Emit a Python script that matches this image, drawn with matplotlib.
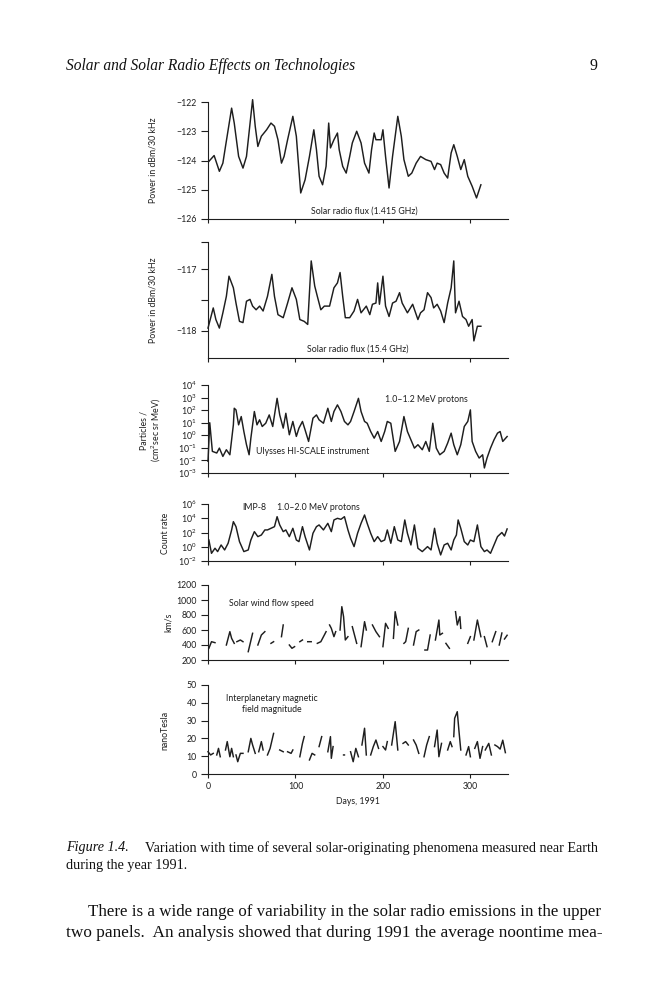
import numpy as np
import matplotlib.pyplot as plt

plt.rcParams['font.family'] = ['Lato', 'DejaVu Sans']
plt.rcParams['mathtext.fontset'] = 'custom'
plt.rcParams['mathtext.rm'] = 'Lato'
plt.rcParams['mathtext.it'] = 'Lato:italic'

INK = '#1e1e1e'
nan = np.nan

# Panel 1: solar radio flux 1.415 GHz (dBm/30 kHz)
p1_days = [1, 7, 13, 17, 20, 27, 30, 35, 40, 44, 51, 54, 57, 61, 67, 72, 76, 80, 84, 87,
           91, 97, 101, 106, 111, 116, 121, 124, 127, 131, 135, 138, 140, 144, 148, 150,
           154, 158, 162, 165, 170, 175, 179, 184, 187, 190, 192, 198, 200, 203, 207, 211,
           217, 221, 224, 229, 233, 238, 243, 249, 255, 259, 262, 266, 270, 274, 278, 281,
           285, 289, 293, 297, 302, 307, 312]
p1_vals = [-124.03, -123.83, -124.37, -124.09, -123.52, -122.21, -122.72, -123.86, -124.26,
           -123.86, -121.92, -122.83, -123.52, -123.17, -122.95, -122.72, -122.83, -123.29,
           -124.09, -123.86, -123.29, -122.49, -123.17, -125.11, -124.66, -123.86, -122.95,
           -123.63, -124.54, -124.83, -124.20, -122.72, -123.57, -123.29, -123.06, -123.63,
           -124.20, -124.43, -123.86, -123.40, -123.00, -123.40, -124.09, -124.43, -123.63,
           -123.06, -123.29, -123.29, -122.95, -123.86, -124.94, -123.86, -122.49, -123.17,
           -123.97, -124.54, -124.43, -124.09, -123.86, -123.97, -124.03, -124.31, -124.09,
           -124.14, -124.43, -124.60, -123.74, -123.46, -123.86, -124.31, -123.97, -124.54,
           -124.88, -125.28, -124.83]

# Panel 2: solar radio flux 15.4 GHz (dBm/30 kHz)
p2_days = [0, 6, 9, 13, 17, 21, 24, 29, 32, 36, 40, 44, 48, 51, 55, 59, 63, 68, 73, 76,
           80, 86, 91, 96, 101, 105, 110, 114, 118, 122, 125, 129, 133, 139, 144, 148, 151,
           154, 157, 162, 167, 171, 175, 181, 185, 188, 192, 194, 196, 200, 203, 207, 211,
           215, 219, 222, 228, 234, 240, 243, 247, 251, 255, 258, 262, 266, 270, 274, 278,
           281, 283, 287, 291, 295, 298, 302, 304, 308, 312]
p2_vals = [-117.96, -117.63, -117.82, -117.96, -117.71, -117.44, -117.11, -117.30, -117.55,
           -117.85, -117.87, -117.52, -117.49, -117.60, -117.66, -117.60, -117.68, -117.44,
           -117.08, -117.44, -117.74, -117.79, -117.55, -117.30, -117.49, -117.82, -117.85,
           -117.90, -116.86, -117.27, -117.44, -117.66, -117.60, -117.60, -117.30, -117.22,
           -117.05, -117.44, -117.79, -117.79, -117.68, -117.49, -117.71, -117.60, -117.74,
           -117.57, -117.55, -117.22, -117.57, -117.11, -117.60, -117.77, -117.55, -117.52,
           -117.38, -117.55, -117.71, -117.57, -117.82, -117.71, -117.66, -117.38, -117.46,
           -117.63, -117.57, -117.68, -117.87, -117.55, -117.30, -116.86, -117.71, -117.52,
           -117.77, -117.82, -117.93, -117.82, -118.17, -117.93, -117.93]

# Panel 3: Ulysses HI-SCALE 1.0-1.2 MeV protons, log10 of particles
p3_days = [0, 2, 5, 10, 13, 17, 21, 25, 29, 30, 32, 35, 38, 41, 44, 47, 49, 53, 56, 59,
           62, 66, 70, 74, 79, 82, 86, 89, 93, 97, 101, 104, 108, 111, 115, 120, 124, 127,
           132, 137, 141, 144, 148, 152, 156, 160, 163, 167, 172, 175, 179, 182, 186, 190,
           194, 198, 202, 205, 209, 214, 219, 224, 228, 232, 236, 240, 245, 249, 253, 257,
           261, 265, 270, 274, 278, 281, 285, 289, 293, 297, 300, 302, 306, 310, 314, 316,
           319, 323, 327, 331, 334, 337, 342]
p3_log = [-2.07, 1.0, -1.28, -1.41, -1.02, -1.68, -1.15, -1.55, 0.83, 2.15, 2.02, 0.83,
          1.49, 0.3, -0.75, -1.55, -0.23, 1.89, 0.83, 1.23, 0.7, 0.96, 1.62, 0.7, 2.94,
          1.62, 0.57, 1.75, 0.04, 1.1, -0.09, 0.57, 1.1, 0.43, -0.49, 1.36, 1.62, 1.23,
          0.96, 2.15, 1.1, 1.89, 2.42, 1.89, 1.1, 0.83, 1.1, 1.89, 2.94, 1.89, 1.1, 0.96,
          0.3, -0.23, 0.3, -0.49, 0.3, 1.1, 0.96, -1.28, -0.49, 1.49, 0.3, -0.36, -1.02,
          -0.75, -1.15, -0.49, -1.28, 0.96, -1.02, -1.55, -1.28, -0.62, 0.17, -0.75, -1.55,
          -0.75, 0.7, 1.1, 2.02, -0.49, -1.28, -1.81, -1.55, -2.6, -1.81, -1.02, -0.36,
          0.17, 0.3, -0.49, -0.1]

# Panel 4: IMP-8 1.0-2.0 MeV protons, log10 of count rate
p4_days = [1, 4, 8, 11, 15, 19, 23, 27, 29, 32, 36, 41, 46, 49, 53, 57, 61, 65, 68, 72,
           76, 79, 82, 86, 89, 93, 97, 101, 104, 108, 111, 116, 120, 124, 127, 132, 137,
           141, 144, 148, 152, 156, 160, 163, 167, 171, 175, 179, 182, 186, 190, 194, 198,
           202, 205, 209, 213, 217, 221, 225, 228, 232, 236, 240, 245, 251, 255, 259, 262,
           266, 270, 274, 278, 281, 284, 286, 289, 293, 297, 300, 304, 308, 312, 316, 319,
           323, 327, 331, 336, 339, 342]
p4_log = [0.95, -0.92, -0.21, -0.68, 0.25, -0.45, 0.49, 2.36, 3.52, 2.82, 0.72, -0.68,
          -0.45, 0.95, 2.12, 1.42, 1.65, 2.36, 2.36, 2.59, 2.82, 4.22, 3.06, 2.12, 2.36,
          1.42, 2.59, 0.95, 0.72, 2.82, 1.42, -0.45, 1.89, 2.82, 3.06, 2.36, 3.29, 2.12,
          3.76, 3.99, 3.85, 4.22, 2.36, 1.19, 0.02, 1.89, 3.29, 4.46, 3.29, 1.89, 0.72,
          1.42, 0.72, 0.95, 2.36, 0.49, 2.82, 0.95, 0.72, 3.76, 1.89, 0.25, 3.06, -0.21,
          -0.68, 0.02, -0.45, 2.59, 0.49, -1.15, 0.25, 0.49, -0.45, 0.95, 1.65, 3.76, 2.59,
          0.72, 0.25, 0.95, 0.72, 3.06, 0.02, -0.68, -0.45, -0.92, 0.25, 1.42, 2.0, 1.5,
          2.5]

# Panel 5: solar wind flow speed (km/s), gaps marked by nan
p5_days = [1, 4, 8, nan, 21, 25, 27, 30, nan, 33, 37, 40, nan, 46, 51, nan, 57, 61, 65, nan,
           72, 75, nan, 84, 86, nan, 93, 96, 99, nan, 105, 108, nan, 114, 118, nan,
           125, 129, 133, 135, nan, 139, 141, 144, 146, nan, 151, 153, 155, 157, 160, nan,
           165, 168, 170, nan, 175, 179, 181, nan, 188, 192, 196, nan, 200, 203, 206, nan,
           212, 214, 217, nan, 224, 226, 229, nan, 235, 238, 241, nan, 248, 251, 254, nan,
           260, 264, 265, 268, nan, 272, 276, nan, 283, 285, 288, 289, nan, 297, 300, nan,
           304, 308, 312, nan, 316, 319, nan, 325, 329, nan, 333, 336, nan, 339, 342]
p5_vals = [356, 444, 431, nan, 400, 578, 489, 422, nan, 444, 467, 444, nan, 311, 556, nan,
           400, 533, 578, nan, 422, 444, nan, 511, 667, nan, 400, 356, 378, nan, 444, 467,
           nan, 444, 444, nan, 422, 444, 533, 578, nan, 667, 622, 511, 578, nan, 600, 911,
           778, 467, 511, nan, 644, 511, 422, nan, 378, 711, 600, nan, 667, 578, 511, nan,
           378, 689, 622, nan, 489, 844, 667, nan, 422, 444, 622, nan, 400, 578, 600, nan,
           333, 333, 533, nan, 467, 733, 533, 556, nan, 422, 356, nan, 844, 667, 778, 622,
           nan, 422, 511, nan, 467, 733, 511, nan, 511, 378, nan, 444, 578, nan, 400, 560,
           nan, 480, 530]

# Panel 6: interplanetary magnetic field magnitude (nT), gaps marked by nan
p6_days = [0, 3, 6, nan, 10, 12, 14, nan, 20, 22, 25, 27, 29, nan, 32, 34, 37, 40, nan,
           46, 49, 51, 54, nan, 58, 61, 63, nan, 68, 71, 75, nan, 82, 86, nan, 91, 95, 97,
           nan, 105, 108, 110, nan, 116, 119, 122, nan, 127, 130, nan, 137, 140, 141, 143,
           nan, 155, 156, nan, 163, 166, 169, 172, nan, 176, 179, 181, nan, 186, 189, 192,
           195, nan, 200, 203, 205, nan, 210, 214, 217, nan, 223, 226, 229, nan, 235, 238,
           241, nan, 247, 250, 253, nan, 259, 262, 264, 267, nan, 274, 277, 279, nan, 281,
           282, 285, 287, 289, nan, 295, 298, 300, nan, 305, 308, 311, 314, nan, 317, 321,
           324, nan, 328, 331, 334, 337, 340]
p6_vals = [12.5, 10.7, 11.6, nan, 10.7, 14.4, 9.7, nan, 13.5, 18.2, 9.7, 14.4, 9.7, nan,
           10.7, 6.9, 11.6, 11.6, nan, 12.5, 20.0, 16.3, 11.6, nan, 12.5, 18.2, 13.5, nan,
           10.7, 14.4, 22.8, nan, 13.5, 12.5, nan, 12.5, 11.6, 13.5, nan, 9.7, 17.2, 21.0,
           nan, 7.9, 11.6, 10.7, nan, 15.4, 21.0, nan, 12.5, 21.0, 8.8, 15.4, nan, 10.7,
           10.7, nan, 12.5, 6.9, 14.4, 9.7, nan, 16.3, 25.7, 10.7, nan, 10.7, 15.4, 19.1,
           14.4, nan, 15.4, 13.5, 18.2, nan, 16.3, 29.4, 13.5, nan, 17.2, 18.2, 16.3, nan,
           19.1, 16.3, 11.6, nan, 9.7, 16.3, 21.0, nan, 15.4, 24.7, 9.7, 17.2, nan, 13.5,
           18.2, 15.4, nan, 21.0, 31.3, 35.0, 23.8, 13.5, nan, 10.7, 15.4, 9.7, nan, 14.4,
           18.2, 8.8, 15.4, nan, 13.5, 17.2, 10.7, nan, 16.3, 15.4, 14.0, 19.0, 12.0]

day_ticks = [0, 100, 200, 300]

fig = plt.figure(figsize=(6.66, 10), dpi=100)
W, H = 666, 1000
x0, x1 = 208, 508
SMALL = 6.3


def panel(top, bottom):
    ax = fig.add_axes([x0 / W, 1 - bottom / H, (x1 - x0) / W, (bottom - top) / H])
    ax.set_xlim(0, 343)
    for s in ('top', 'right'):
        ax.spines[s].set_visible(False)
    for s in ('left', 'bottom'):
        ax.spines[s].set_linewidth(0.8)
        ax.spines[s].set_color(INK)
    ax.tick_params(axis='y', direction='out', length=5, width=0.8, colors=INK,
                   labelsize=SMALL, pad=3)
    ax.tick_params(axis='x', direction='out', length=3, width=0.8, colors=INK,
                   labelsize=SMALL, pad=3)
    ax.set_xticks(day_ticks)
    ax.set_xticklabels([])
    ax.tick_params(axis='y', which='minor', left=False)
    ax.patch.set_visible(False)
    return ax


def ylabel(x, ycen, text):
    fig.text(x / W, 1 - ycen / H, text, rotation=90, ha='center', va='center',
             fontsize=SMALL, color=INK)


line_kw = dict(color=INK, lw=1.05, clip_on=False)

# panel 1
ax1 = panel(102, 219)
ax1.plot(p1_days, p1_vals, **line_kw)
ax1.set_ylim(-126, -122)
ax1.set_yticks([-122, -123, -124, -125, -126])
ax1.text(179, -125.72, 'Solar radio flux (1.415 GHz)', ha='center', va='center',
         fontsize=SMALL, color=INK)
ylabel(153, 160, 'Power in dBm/30 kHz')

# panel 2
ax2 = panel(242, 358)
ax2.plot(p2_days, p2_vals, **line_kw)
ax2.set_ylim(-118.45, -116.55)
ax2.set_yticks([-116.55, -117, -117.5, -118])
ax2.set_yticklabels(['', '\u2212117', '', '\u2212118'])
ax2.text(171, -118.3, 'Solar radio flux (15.4 GHz)', ha='center', va='center',
         fontsize=SMALL, color=INK)
ylabel(153, 300, 'Power in dBm/30 kHz')

# panel 3
ax3 = panel(385, 473)
ax3.set_yscale('log')
ax3.plot(p3_days, 10.0 ** np.array(p3_log), **line_kw)
ax3.set_ylim(1e-3, 1e4)
exps3 = [4, 3, 2, 1, 0, -1, -2, -3]
ax3.set_yticks([10.0 ** e for e in exps3])
ax3.set_yticklabels(['$10^{%d}$' % e for e in exps3])
ax3.text(250, 10 ** 2.85, '1.0\u20131.2 MeV protons', ha='center', va='center',
         fontsize=SMALL, color=INK)
ax3.text(120, 10 ** -1.25, 'Ulysses HI-SCALE instrument', ha='center', va='center',
         fontsize=SMALL, color=INK)
ylabel(144, 430, 'Particles /')
ylabel(156, 430, '(cm$^2$sec sr MeV)')

# panel 4
ax4 = panel(504, 561)
ax4.set_yscale('log')
ax4.plot(p4_days, 10.0 ** np.array(p4_log), **line_kw)
ax4.set_ylim(1e-2, 1e6)
exps4 = [6, 4, 2, 0, -2]
ax4.set_yticks([10.0 ** e for e in exps4])
ax4.set_yticklabels(['$10^{%d}$' % e for e in exps4])
ax4.text(39, 10 ** 5.55, 'IMP-8', ha='left', va='center', fontsize=SMALL, color=INK)
ax4.text(79, 10 ** 5.55, '1.0\u20132.0 MeV protons', ha='left', va='center',
         fontsize=SMALL, color=INK)
ylabel(165, 533, 'Count rate')

# panel 5
ax5 = panel(585, 660)
ax5.plot(p5_days, p5_vals, **line_kw)
ax5.set_ylim(200, 1200)
ax5.set_yticks([1200, 1000, 800, 600, 400, 200])
ax5.text(24, 955, 'Solar wind flow speed', ha='left', va='center', fontsize=SMALL,
         color=INK)
ylabel(168, 622, 'km/s')

# panel 6
ax6 = panel(685, 774)
ax6.plot(p6_days, p6_vals, **line_kw)
ax6.set_ylim(0, 50)
ax6.set_yticks([50, 40, 30, 20, 10, 0])
ax6.set_xticklabels([str(d) for d in day_ticks])
ax6.text(73, 39.5, 'Interplanetary magnetic\nfield magnitude', ha='center',
         va='center', fontsize=SMALL, color=INK, linespacing=1.3)
ax6.set_xlabel('Days, 1991', fontsize=SMALL, color=INK, labelpad=4)
ylabel(165, 730, 'nanoTesla')

# page text
serif = 'Liberation Serif'
PAGE = '#111111'
renderer = fig.canvas.get_renderer()


def fit_line(text, left, right, y, size, style='normal'):
    # scale the font so the line runs from left to right (pixels)
    t = fig.text(left / W, 1 - y / H, text, family=serif, style=style, fontsize=size,
                 va='center', color=PAGE)
    width = t.get_window_extent(renderer).width
    t.set_fontsize(size * (right - left) / width)


fig.text(66 / W, 1 - 66 / H, 'Solar and Solar Radio Effects on Technologies',
         family=serif, style='italic', fontsize=11.2, va='center', color=PAGE)
fig.text(597 / W, 1 - 66 / H, '9', family=serif, fontsize=11.5, va='center',
         ha='right', color=PAGE)

fig.text(66 / W, 1 - 848 / H, 'Figure 1.4.', family=serif, style='italic',
         fontsize=10.2, va='center', color=PAGE)
fit_line('Variation with time of several solar-originating phenomena measured near Earth',
         145, 598, 848, 10)
fig.text(66 / W, 1 - 866 / H, 'during the year 1991.', family=serif, fontsize=10.2,
         va='center', color=PAGE)

fit_line('There is a wide range of variability in the solar radio emissions in the upper',
         88, 598, 912, 12)
fit_line('two panels.  An analysis showed that during 1991 the average noontime mea-',
         66, 598, 933, 12)

fig.savefig('out.png', dpi=100, facecolor='white')
